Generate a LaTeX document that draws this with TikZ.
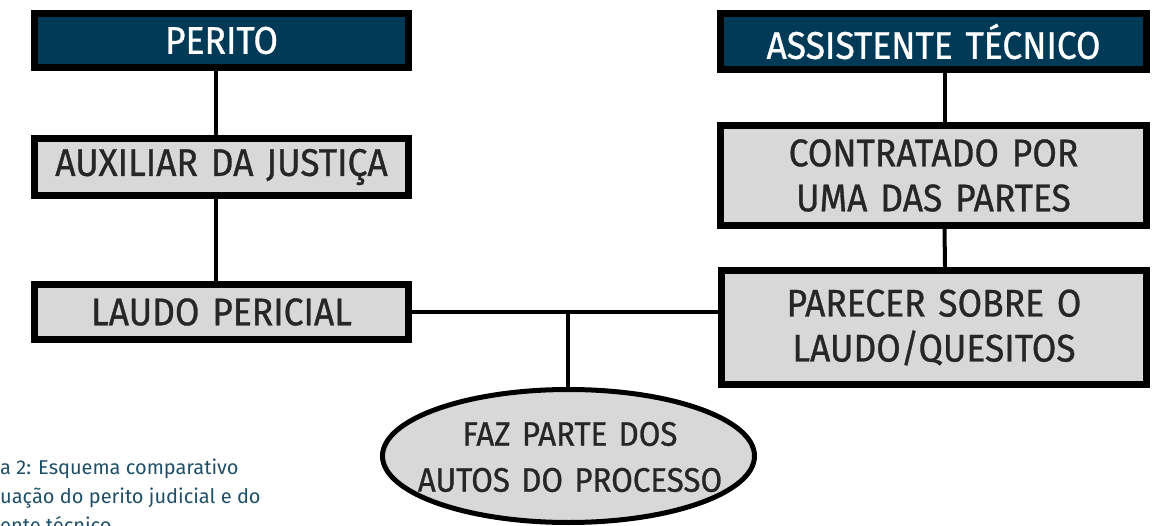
\documentclass[tikz,border=0pt]{standalone}
\usepackage{fontspec}
\setmainfont[FakeStretch=0.92,FakeBold=0.8]{Fira Sans}
\newfontfamily\capfont{Fira Sans}
\usetikzlibrary{shapes.geometric}
\definecolor{headblue}{HTML}{013A56}
\definecolor{boxgray}{HTML}{D8D8D8}
\definecolor{captxt}{HTML}{1F5068}
\tikzset{
  base/.style={rectangle, inner sep=0pt, align=center, font=\fontsize{38.5}{45}\selectfont},
  headbox/.style={base, draw=black, line width=7pt, fill=headblue, text=white},
  graybox/.style={base, draw=black, line width=7pt, fill=boxgray, text=black!85},
  conn/.style={draw=black, line width=4pt},
  ellbox/.style={ellipse, draw=black, line width=5pt, fill=boxgray, inner sep=0pt},
  captext/.style={anchor=base west, inner sep=0pt, text=captxt, font=\capfont\fontsize{20}{24}\selectfont}
}
\begin{document}
\begin{tikzpicture}[x=1pt,y=-1pt]
\useasboundingbox (0,0) rectangle (1158,526);
% left column
\node[headbox, minimum width=374pt, minimum height=54pt, text width=360pt] (perito) at (221.5,40.5) {PERITO};
\node[graybox, minimum width=374pt, minimum height=57pt, text width=366pt] (aux) at (221.5,167) {AUXILIAR DA JUSTIÇA};
\node[graybox, minimum width=374pt, minimum height=55pt, text width=360pt] (laudo) at (221.5,312) {LAUDO PERICIAL};
% right column
\node[headbox, minimum width=426pt, minimum height=56pt, text width=410pt] (assist) at (933.5,41.5) {ASSISTENTE TÉCNICO};
\node[graybox, minimum width=426pt, minimum height=100pt, text width=410pt] (contr) at (933.5,175.5) {CONTRATADO POR\\UMA DAS PARTES};
\node[graybox, minimum width=425pt, minimum height=114pt, text width=410pt] (parecer) at (934,327.5) {PARECER SOBRE O\\LAUDO/QUESITOS};
% ellipse
\node[ellbox, minimum width=372pt, minimum height=133pt] (ell) at (568.5,456) {};
\coordinate (j) at (568,312);
% connectors
\draw[conn] ([xshift=-5.5pt]perito.south) -- ([xshift=-5.5pt]aux.north);
\draw[conn] ([xshift=-5.5pt]aux.south) -- ([xshift=-5.5pt]laudo.north);
\draw[conn] ([xshift=11.5pt]assist.south) -- ([xshift=11.5pt]contr.north);
\draw[conn] ([xshift=11pt]contr.south) -- ([xshift=11pt]parecer.north);
\draw[conn] (laudo.east) -- (laudo.east -| parecer.west);
\draw[conn] (j) -- (j |- ell.north);
\node[base, text=black!85, text width=360pt, font=\fontsize{34}{46}\selectfont] (elltxt) at (570,457) {FAZ PARTE DOS\\AUTOS DO PROCESSO};
% caption (cropped at the picture's edges)
\node[captext] (cap1) at (0,474) {a 2: Esquema comparativo};
\node[captext] (cap2) at (0,503) {uação do perito judicial e do};
\node[captext] (cap3) at (0,532) {ente técnico};
\end{tikzpicture}
\end{document}
